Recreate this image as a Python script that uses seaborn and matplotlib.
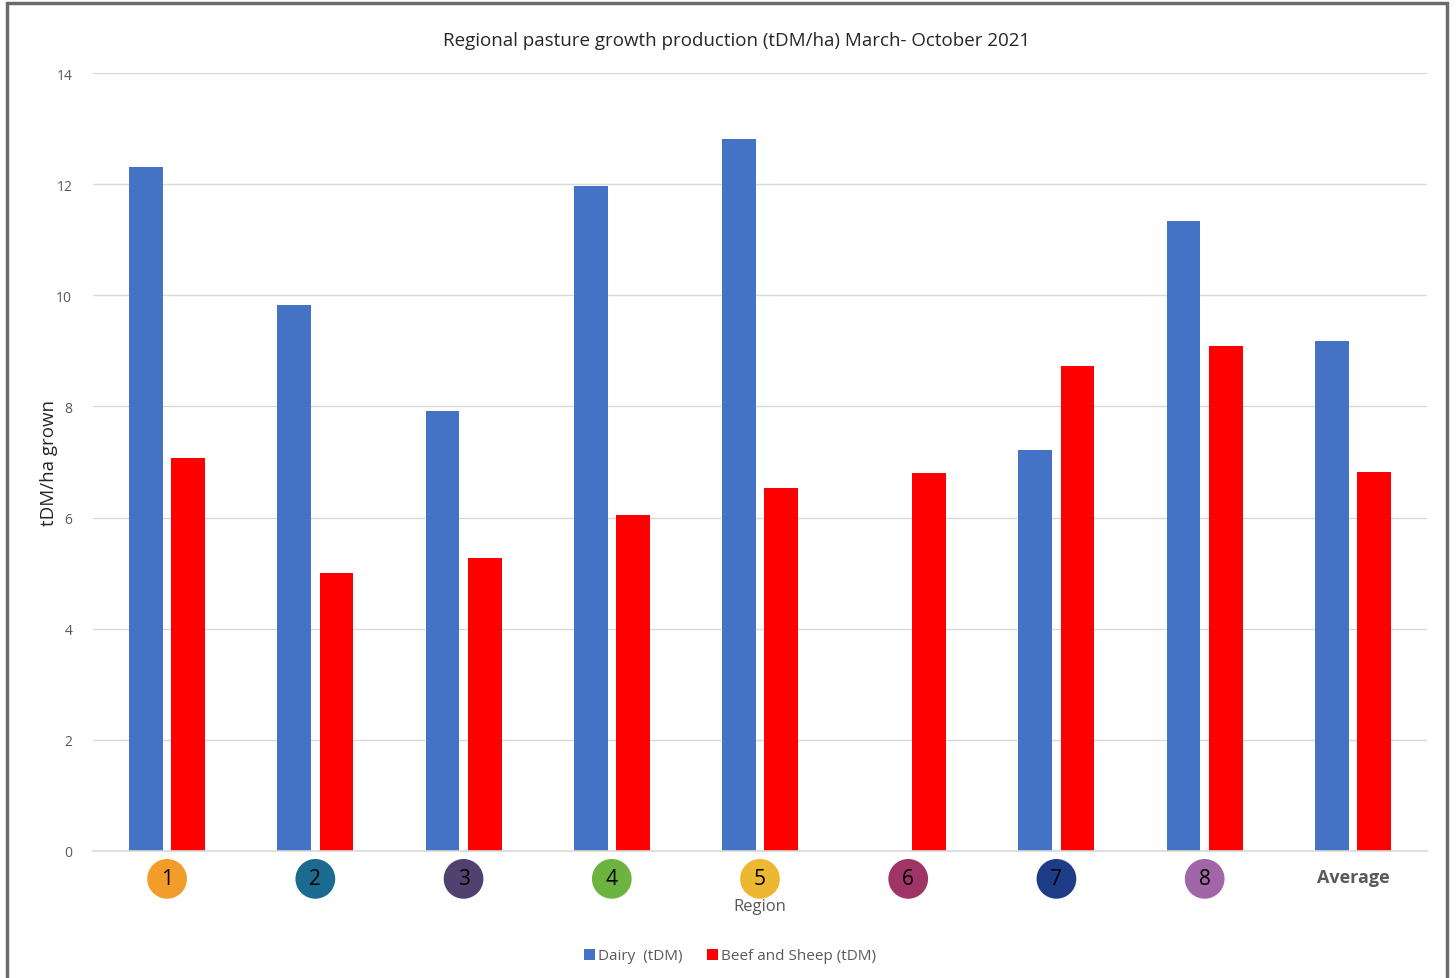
import matplotlib
matplotlib.use("Agg")
import matplotlib.pyplot as plt
from matplotlib.patches import Rectangle
import seaborn as sns
import pandas as pd
import numpy as np

regions = ["1", "2", "3", "4", "5", "6", "7", "8", "Average"]
dairy = [12.31, 9.83, 7.92, 11.97, 12.81, np.nan, 7.22, 11.34, 9.18]
beef_sheep = [7.07, 5.00, 5.27, 6.05, 6.53, 6.80, 8.73, 9.09, 6.82]
series = ["Dairy  (tDM)", "Beef and Sheep (tDM)"]
series_colors = ["#4472C4", "#FF0000"]
region_colors = ["#F29D2A", "#1B6A8F", "#50416E", "#6CB33F", "#EDB731",
                 "#9E3566", "#1F3C86", "#A066A8", None]
y_ticks = [0, 2, 4, 6, 8, 10, 12, 14]

df = pd.DataFrame({
    "Region": regions * 2,
    "Series": [series[0]] * len(regions) + [series[1]] * len(regions),
    "Value": dairy + beef_sheep,
})

sns.set_theme(style="white")
plt.rcParams["font.family"] = ["Open Sans", "DejaVu Sans"]

fig = plt.figure(figsize=(14.56, 9.79), dpi=100)
ax = fig.add_axes([93 / 1456, 1 - 852 / 979, (1427 - 93) / 1456, (852 - 74) / 979])

sns.barplot(data=df, x="Region", y="Value", hue="Series", order=regions,
            hue_order=series, palette=series_colors, width=0.57, gap=0.2,
            saturation=1, linewidth=0, ax=ax, legend=False)

ax.set_ylim(0, 14)
ax.set_xlim(-0.5, len(regions) - 0.5)
ax.set_yticks(y_ticks)
ax.set_yticklabels([str(t) for t in y_ticks], color="#595959", fontsize=10)
ax.yaxis.grid(True, color="#d9d9d9", linewidth=1)
ax.set_axisbelow(True)
for side in ["top", "right", "left"]:
    ax.spines[side].set_visible(False)
ax.spines["bottom"].set_color("#d9d9d9")
ax.spines["bottom"].set_linewidth(1.2)
ax.tick_params(axis="y", length=0, pad=15)
ax.tick_params(axis="x", length=0, pad=12.5)

# Region badges as x tick labels
ax.set_xticks(range(len(regions)))
ax.set_xticklabels(regions)
for lab, col in zip(ax.get_xticklabels(), region_colors):
    if col is None:
        lab.set_fontsize(13)
        lab.set_fontweight("bold")
        lab.set_color("#595959")
    else:
        lab.set_fontsize(15)
        lab.set_color("black")
        lab.set_bbox(dict(boxstyle="circle,pad=0.45", facecolor=col, edgecolor="none"))

ax.set_xlabel("Region", color="#595959", fontsize=12, labelpad=6)
ax.set_ylabel("tDM/ha grown", color="#262626", fontsize=13.5, labelpad=-1)

fig.text(737 / 1456, 1 - 41 / 979, "Regional pasture growth production (tDM/ha) March- October 2021",
         ha="center", va="center", fontsize=13.5, color="#262626")

# Legend
handles = [Rectangle((0, 0), 1, 1, facecolor=c, edgecolor="none") for c in series_colors]
fig.legend(handles, series, loc="center", bbox_to_anchor=(730 / 1456, 1 - 957 / 979),
           ncol=2, frameon=False, fontsize=11, handlelength=0.7, handleheight=0.7,
           handletextpad=0.2, columnspacing=1.6, labelcolor="#595959")

# Outer frame
fig.patches.append(Rectangle((7 / 1456, -0.01), (1447 - 7) / 1456, 1 - 4 / 979 + 0.01,
                             transform=fig.transFigure, fill=False,
                             edgecolor="#6b6b6b", linewidth=2.5))

fig.savefig("out.png", dpi=100)
